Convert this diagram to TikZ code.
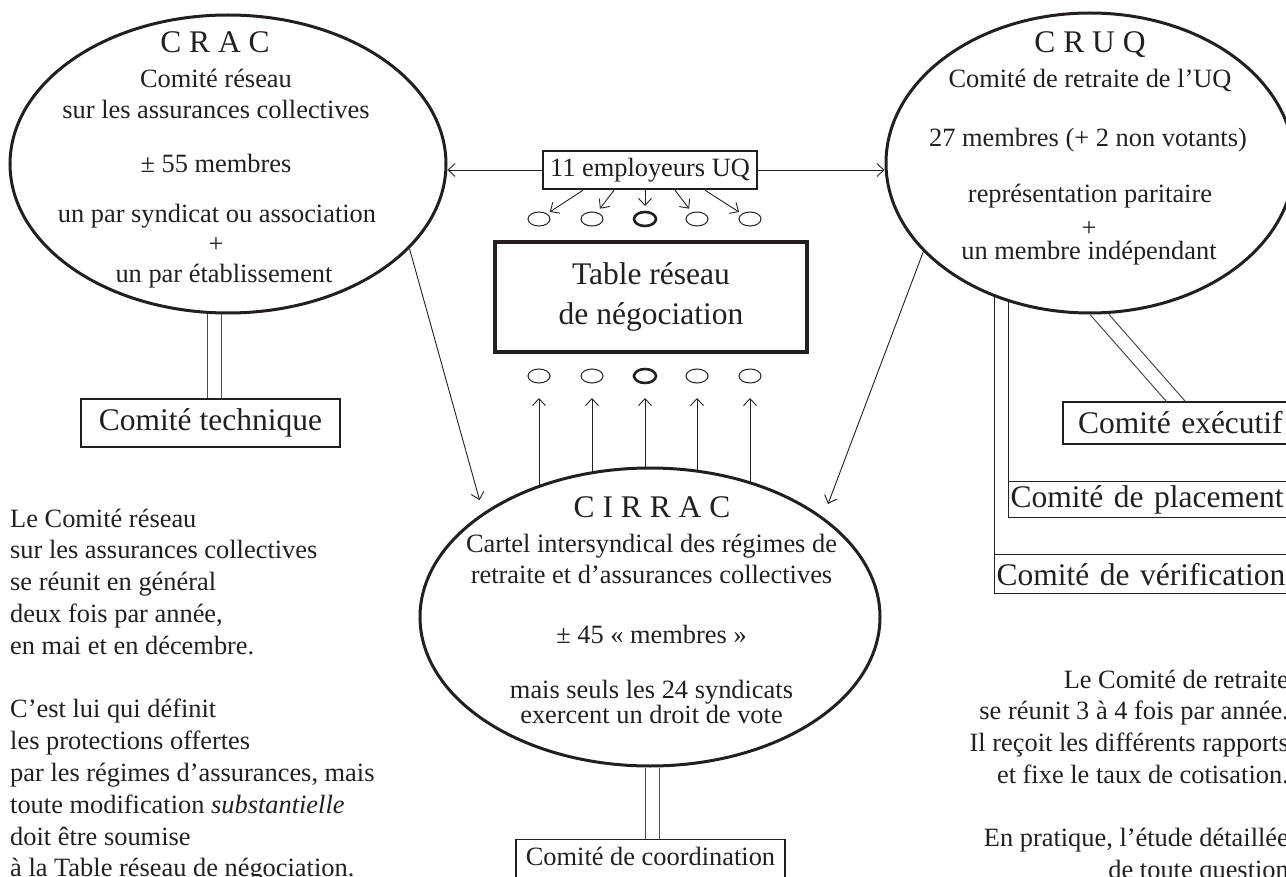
\documentclass[tikz,border=0pt]{standalone}
\usepackage{fontspec}
\setmainfont{Liberation Serif}
\usetikzlibrary{shapes.geometric,arrows.meta,calc}
\definecolor{ink}{RGB}{35,31,32}
\begin{document}
\begin{tikzpicture}[x=1pt,y=-1pt,
  color=ink,
  font=\fontsize{26.4}{31.7}\selectfont,
  oval/.style={ellipse, draw=ink, line width=3pt, inner sep=0pt},
  dot/.style={ellipse, draw=ink, line width=1pt, minimum width=22pt, minimum height=14pt, inner sep=0pt},
  dotb/.style={dot, line width=2.6pt},
  arr/.style={draw=ink, line width=0.9pt, -{Straight Barb[length=7pt,width=13pt]}},
  twin/.style={draw=black!70, line width=1pt},
  thinline/.style={draw=ink, line width=1pt},
  big/.style={font=\fontsize{31.5}{40}\selectfont},
  box/.style={draw=ink, rectangle, inner sep=0pt},
  txt/.style={inner sep=0pt}
]
\useasboundingbox (0,0) rectangle (1286,877);
\clip (0,0) rectangle (1286,877);

% ---- main ellipses
\node[oval, minimum width=436pt, minimum height=298pt] (crac) at (228,164) {};
\node[oval, minimum width=408pt, minimum height=300pt] (cruq) at (1090,163) {};
\node[oval, minimum width=460pt, minimum height=298pt] (cir) at (650,617) {};

% ---- CRAC text
\node[txt, big, anchor=base] (cracT) at (215,53) {C R A C};
\node[txt, anchor=base] (crac1) at (216,88) {Comité réseau};
\node[txt, anchor=base] (crac2) at (216,119) {sur les assurances collectives};
\node[txt, anchor=base] (crac3) at (216,173) {± 55 membres};
\node[txt, anchor=base] (crac4) at (217,223) {un par syndicat ou association};
\node[txt, anchor=base] (crac5) at (216,253) {+};
\node[txt, anchor=base] (crac6) at (224,283) {un par établissement};

% ---- CRUQ text
\node[txt, big, anchor=base] (cruqT) at (1090,53) {C R U Q};
\node[txt, anchor=base] (cruq1) at (1090,88) {Comité de retraite de l’UQ};
\node[txt, anchor=base] (cruq2) at (1088,147) {27 membres (+ 2 non votants)};
\node[txt, anchor=base] (cruq3) at (1090,203) {représentation paritaire};
\node[txt, anchor=base] (cruq4) at (1089,236.5) {+};
\node[txt, anchor=base] (cruq5) at (1089,260) {un membre indépendant};

% ---- CIRRAC text
\node[txt, big, anchor=base] (cirT) at (652,517) {C I R R A C};
\node[txt, anchor=base] (cir1) at (651.5,552) {Cartel intersyndical des régimes de};
\node[txt, anchor=base] (cir2) at (651.5,583) {retraite et d’assurances collectives};
\node[txt, anchor=base] (cir3) at (651.5,643) {± 45 «~membres~»};
\node[txt, anchor=base] (cir4) at (651.5,698) {mais seuls les 24 syndicats};
\node[txt, anchor=base] (cir5) at (651.5,723) {exercent un droit de vote};

% ---- central boxes
\node[box, line width=2.5pt, minimum width=214pt, minimum height=38pt] (emp) at (650,170) {11 employeurs UQ};
\node[box, big, line width=4.5pt, minimum width=312pt, minimum height=110pt, align=center] (table) at (651,297) {Table réseau\\de négociation};

% ---- small ellipses
\foreach \i/\x in {1/539,2/592,4/697,5/750} {
  \node[dot] (a\i) at (\x,219) {};
  \node[dot] (b\i) at (\x,376) {};
}
\node[dotb] (a3) at (645,219) {};
\node[dotb] (b3) at (645,376) {};

% ---- arrows from employers to the top row
\foreach \i/\s in {1/-67,2/-36,3/-5,4/25,5/55}
  \draw[arr, shorten >=13pt] ([xshift=\s pt]emp.south) -- (a\i.center);

% ---- arrows from CIRRAC to the bottom row
\foreach \i/\a in {1/130.38,2/111.91,3/91.92,4/72.15,5/53.30}
  \draw[arr, shorten >=22pt] (cir.\a -| b\i) -- (b\i.center);

% ---- employers to CRAC and CRUQ
\draw[arr] (emp.west) -- (emp.west -| crac.east);
\draw[arr] (emp.east) -- (emp.east -| cruq.west);

% ---- CRAC and CRUQ to CIRRAC
\draw[arr, shorten >=13pt] (crac.-25.66) -- (cir.148.97);
\draw[arr, shorten >=14pt] (cruq.208.46) -- (cir.30.65);

% ---- Comité technique
\node[box, big, line width=1.5pt, minimum width=259pt, minimum height=48pt] (tech) at (210.5,423) {Comité technique};
\draw[twin] ([xshift=-21pt]crac.south) -- ([xshift=-21pt]crac.south |- tech.north);
\draw[twin] ([xshift=-7pt]crac.south) -- ([xshift=-7pt]crac.south |- tech.north);

% ---- Comité de coordination
\node[box, line width=1.2pt, minimum width=269pt, minimum height=50pt, anchor=north] (coord) at (650.5,839) {};
\node[txt, anchor=base] (coordT) at (650.5,865) {Comité de coordination};
\draw[twin] ([xshift=-5pt]cir.south) -- ([xshift=-5pt]cir.south |- coord.north);
\draw[twin] ([xshift=9pt]cir.south) -- ([xshift=9pt]cir.south |- coord.north);

% ---- CRUQ committees
\node[box, big, line width=2pt, anchor=north west, minimum height=42pt, text width=260pt, align=left, inner xsep=15pt] (exec) at (1062,401) {Comité exécutif};
\node[box, big, line width=1.2pt, anchor=north west, minimum height=36pt, text width=300pt, align=left, inner xsep=2pt] (plac) at (1008,481) {Comité de placement};
\node[box, big, line width=1.2pt, anchor=north west, minimum height=39pt, text width=300pt, align=left, inner xsep=2pt] (verif) at (994,554) {Comité de vérification};
\draw[thinline] (plac.south west) -- (plac.south west |- cruq.239.16);
\draw[thinline] (verif.south west) -- (verif.south west |- cruq.234.05);
\draw[twin] (cruq.south) -- ([xshift=104pt]exec.north west);
\draw[twin] ([xshift=19pt]cruq.south) -- ([xshift=123pt]exec.north west);

% ---- left notes
\node[txt, anchor=base west] (l1) at (10,527) {Le Comité réseau};
\node[txt, anchor=base west] (l2) at (10,558.8) {sur les assurances collectives};
\node[txt, anchor=base west] (l3) at (10,590.6) {se réunit en général};
\node[txt, anchor=base west] (l4) at (10,622.4) {deux fois par année,};
\node[txt, anchor=base west] (l5) at (10,654.2) {en mai et en décembre.};
\node[txt, anchor=base west] (l7) at (10,717.8) {C’est lui qui définit};
\node[txt, anchor=base west] (l8) at (10,749.6) {les protections offertes};
\node[txt, anchor=base west] (l9) at (10,781.4) {par les régimes d’assurances, mais};
\node[txt, anchor=base west] (l10) at (10,813.2) {toute modification \textit{substantielle}};
\node[txt, anchor=base west] (l11) at (10,845) {doit être soumise};
\node[txt, anchor=base west] (l12) at (10,876.8) {à la Table réseau de négociation.};

% ---- right notes
\node[txt, anchor=base east] (r1) at (1289,688) {Le Comité de retraite};
\node[txt, anchor=base east] (r2) at (1289,719.7) {se réunit 3 à 4 fois par année.};
\node[txt, anchor=base east] (r3) at (1289,751.4) {Il reçoit les différents rapports};
\node[txt, anchor=base east] (r4) at (1289,783) {et fixe le taux de cotisation.};
\node[txt, anchor=base east] (r6) at (1289,846.4) {En pratique, l’étude détaillée};
\node[txt, anchor=base east] (r7) at (1289,878) {de toute question};
\end{tikzpicture}
\end{document}
